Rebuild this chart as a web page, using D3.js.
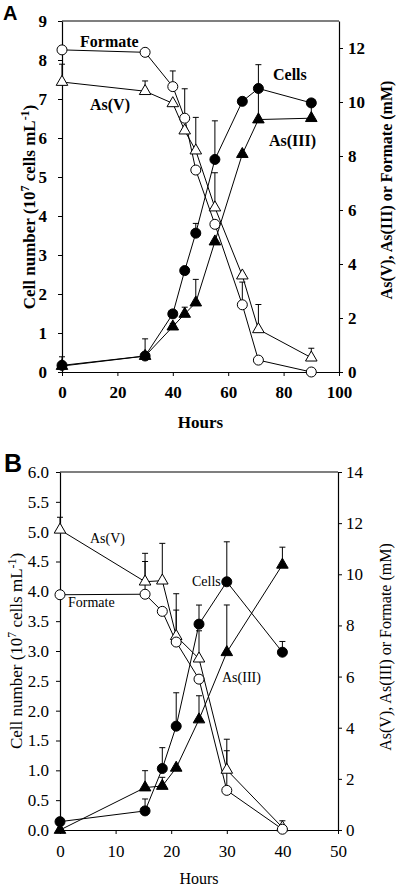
<!DOCTYPE html>
<html><head><meta charset="utf-8">
<script src="https://cdn.jsdelivr.net/npm/d3@7"></script>
<style>html,body{margin:0;padding:0;background:#fff}</style>
</head><body>
<svg id="c" width="400" height="888"></svg>
<script>
// ---------- Panel A data ----------
const hoursA   = [0, 30, 40, 44.3, 48.3, 55.2, 65.1, 70.9, 90];
const cellsA   = [0.17, 0.41, 1.49, 2.6, 3.56, 5.45, 6.94, 7.27, 6.9];
const cellsErrA= [0.39, 0.85, null, null, 3.81, 6.44, null, 7.88, null];
const as3A     = [0.22, 0.59, 1.68, 2.15, 2.57, 4.83, 8.07, 9.35, 9.4];
const as3ErrA  = [null, null, 1.8, 2.4, 3.43, null, null, 10.5, 9.9];
const as5A     = [10.74, 10.4, 9.95, 8.94, 8.2, 6.09, 3.57, 1.58, 0.53];
const as5ErrA  = [11.4, 10.78, null, null, 9.43, 7.38, null, 2.5, 0.88];
const formA    = [11.93, 11.84, 10.57, 9.4, 7.48, 5.47, 2.49, 0.44, 0.0];
const formErrA = [null, null, 11.15, 10.49, null, null, 3.33, null, null];
const xTicksA  = [0, 20, 40, 60, 80, 100];
const yTicksA  = [0, 1, 2, 3, 4, 5, 6, 7, 8, 9];
const y2TicksA = [0, 2, 4, 6, 8, 10, 12];

// ---------- Panel B data ----------
const hoursB   = [0, 15.3, 18.4, 20.9, 25, 30, 40];
const cellsB   = [0.14, 0.32, 1.03, 1.74, 3.45, 4.16, 2.98];
const cellsErrB= [null, 0.52, 1.38, 2.3, 3.77, 4.83, 3.16];
const as3B     = [0, 1.66, 1.72, 2.43, 4.32, 6.95, 10.37];
const as3ErrB  = [null, 2.32, 2.06, null, 5.25, 8.8, 11.06];
const as5B     = [11.74, 9.71, 9.75, 7.58, 6.7, 2.35, 0.1];
const as5ErrB  = [12.23, 10.82, 11.21, 9.24, 7.79, 3.55, 0.36];
const formB    = [9.2, 9.22, 8.55, 7.35, 5.9, 1.55, 0.03];
const formErrB = [null, 10.5, null, 8.6, null, 3.1, null];
const xTicksB  = [0, 10, 20, 30, 40, 50];
const yTicksB  = [0, 0.5, 1, 1.5, 2, 2.5, 3, 3.5, 4, 4.5, 5, 5.5, 6];
const y2TicksB = [0, 2, 4, 6, 8, 10, 12, 14];

const svg = d3.select("#c");
const SERIF = "'Liberation Serif','Times New Roman',serif";

function panel(o) {
  const g = svg.append("g");
  const x = d3.scaleLinear().domain(o.xDom).range([o.L, o.R]);
  const y = d3.scaleLinear().domain(o.yDom).range([o.B, o.T]);
  const y2 = d3.scaleLinear().domain(o.y2Dom).range([o.B, o.T]);
  const fw = o.bold ? "bold" : "normal";

  // frame top
  g.append("line").attr("x1", o.L).attr("x2", o.R).attr("y1", o.T).attr("y2", o.T)
    .attr("stroke", "#000").attr("stroke-width", 1.2);

  const styleAxis = (sel) => {
    sel.selectAll("path").attr("stroke", "#000").attr("stroke-width", 1.2);
    sel.selectAll("line").attr("stroke", "#000").attr("stroke-width", 1);
    sel.selectAll("text").attr("font-family", SERIF).attr("font-size", o.tickFs)
      .attr("font-weight", fw).attr("fill", "#000");
  };
  g.append("g").attr("transform", `translate(0,${o.B})`)
    .call(d3.axisBottom(x).tickValues(o.xTicks).tickSize(4).tickSizeOuter(0).tickPadding(o.xPad))
    .call(styleAxis);
  g.append("g").attr("transform", `translate(${o.L},0)`)
    .call(d3.axisLeft(y).tickValues(o.yTicks).tickFormat(o.yFmt).tickSize(4).tickSizeOuter(0).tickPadding(o.yPad))
    .call(styleAxis);
  g.append("g").attr("transform", `translate(${o.R},0)`)
    .call(d3.axisRight(y2).tickValues(o.y2Ticks).tickSize(4).tickSizeOuter(0).tickPadding(o.y2Pad))
    .call(styleAxis);

  const series = [
    {v: o.as5, e: o.as5Err, ys: y2, sym: "tri", fill: "#fff"},
    {v: o.form, e: o.formErr, ys: y2, sym: "circ", fill: "#fff"},
    {v: o.as3, e: o.as3Err, ys: y2, sym: "tri", fill: "#000"},
    {v: o.cells, e: o.cellsErr, ys: y, sym: "circ", fill: "#000"}
  ];
  const line = (ys) => d3.line().x(d => x(d[0])).y(d => ys(d[1]));
  series.forEach(s => {
    const pts = o.hours.map((h, i) => [h, s.v[i]]);
    g.append("path").attr("d", line(s.ys)(pts)).attr("fill", "none")
      .attr("stroke", "#000").attr("stroke-width", 1);
  });
  series.forEach(s => {
    o.hours.forEach((h, i) => {
      if (s.e[i] == null) return;
      const px = x(h), py = s.ys(s.v[i]), pt = s.ys(s.e[i]);
      g.append("line").attr("x1", px).attr("x2", px).attr("y1", py).attr("y2", pt)
        .attr("stroke", "#000").attr("stroke-width", 1);
      g.append("line").attr("x1", px - 3).attr("x2", px + 3).attr("y1", pt).attr("y2", pt)
        .attr("stroke", "#000").attr("stroke-width", 1);
    });
  });
  const tri = d3.symbol().type(d3.symbolTriangle).size(58);
  series.forEach(s => {
    o.hours.forEach((h, i) => {
      const px = x(h), py = s.ys(s.v[i]);
      if (s.sym === "circ") {
        g.append("circle").attr("cx", px).attr("cy", py).attr("r", 5)
          .attr("fill", s.fill).attr("stroke", "#000").attr("stroke-width", 1);
      } else {
        g.append("path").attr("d", tri()).attr("transform", `translate(${px},${py})`)
          .attr("fill", s.fill).attr("stroke", "#000").attr("stroke-width", 1);
      }
    });
  });

  // in-plot labels
  o.labels.forEach(l => {
    g.append("text").attr("x", l[1]).attr("y", l[2]).text(l[0])
      .attr("font-family", SERIF).attr("font-size", o.labFs).attr("font-weight", fw);
  });
  // axis titles
  g.append("text").attr("x", (o.L + o.R) / 2).attr("y", o.hoursY).attr("text-anchor", "middle")
    .attr("font-family", SERIF).attr("font-size", o.titleFs).attr("font-weight", fw).text("Hours");
  const lt = g.append("text").attr("transform", `translate(${o.leftX},${o.leftY}) rotate(-90)`)
    .attr("text-anchor", "middle").attr("font-family", SERIF).attr("font-size", o.leftFs).attr("font-weight", fw);
  lt.append("tspan").text("Cell number (10");
  lt.append("tspan").attr("dy", -6).attr("font-size", o.leftFs * 0.7).text("7");
  lt.append("tspan").attr("dy", 6).text(" cells mL");
  lt.append("tspan").attr("dy", -6).attr("font-size", o.leftFs * 0.7).text("-1");
  lt.append("tspan").attr("dy", 6).text(")");
  g.append("text").attr("transform", `translate(${o.rightX},${o.rightY}) rotate(-90)`)
    .attr("text-anchor", "middle").attr("font-family", SERIF).attr("font-size", o.rightFs).attr("font-weight", fw)
    .text("As(V), As(III) or Formate (mM)");
  // panel letter
  g.append("text").attr("x", o.letX).attr("y", o.letY).text(o.letter)
    .attr("font-family", "'Liberation Sans',Arial,sans-serif").attr("font-weight", "bold").attr("font-size", o.letFs);
}

panel({
  L: 62, R: 339, T: 21, B: 372, xDom: [0, 100], yDom: [0, 9], y2Dom: [0, 13],
  xTicks: xTicksA, yTicks: yTicksA, y2Ticks: y2TicksA, yFmt: d3.format("d"),
  hours: hoursA, cells: cellsA, cellsErr: cellsErrA, as3: as3A, as3Err: as3ErrA,
  as5: as5A, as5Err: as5ErrA, form: formA, formErr: formErrA,
  bold: true, tickFs: 17, labFs: 16, titleFs: 17, leftFs: 17, rightFs: 16,
  xPad: 10, yPad: 11, y2Pad: 5,
  labels: [["Formate", 80, 47], ["As(V)", 90, 110], ["Cells", 273, 80], ["As(III)", 269, 146]],
  hoursY: 428, leftX: 35, leftY: 207, rightX: 392, rightY: 190,
  letter: "A", letX: 3, letY: 20, letFs: 20
});

panel({
  L: 60, R: 338, T: 472, B: 830, xDom: [0, 50], yDom: [0, 6], y2Dom: [0, 14],
  xTicks: xTicksB, yTicks: yTicksB, y2Ticks: y2TicksB, yFmt: d3.format(".1f"),
  hours: hoursB, cells: cellsB, cellsErr: cellsErrB, as3: as3B, as3Err: as3ErrB,
  as5: as5B, as5Err: as5ErrB, form: formB, formErr: formErrB,
  bold: false, tickFs: 17, labFs: 14, titleFs: 16, leftFs: 17, rightFs: 16,
  xPad: 11, yPad: 7, y2Pad: 4,
  labels: [["As(V)", 90, 543], ["Formate", 68, 607], ["Cells", 192, 586], ["As(III)", 222, 682]],
  hoursY: 884, leftX: 22, leftY: 651, rightX: 391, rightY: 647,
  letter: "B", letX: 4, letY: 472, letFs: 25
});
</script>
</body></html>
